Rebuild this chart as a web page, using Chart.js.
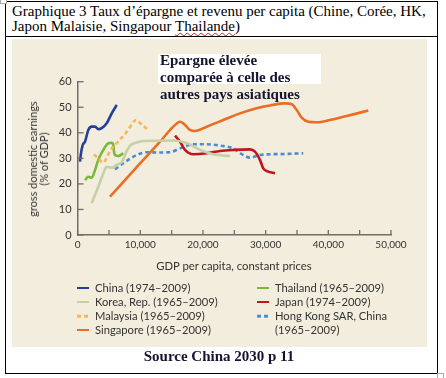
<!DOCTYPE html>
<html>
<head>
<meta charset="utf-8">
<script src="https://cdn.jsdelivr.net/npm/chart.js@4.4.0/dist/chart.umd.min.js"></script>
<style>
  html, body { margin:0; padding:0; background:#fff; }
  body { width:446px; height:378px; position:relative; overflow:hidden; }
  .frame { position:absolute; left:5px; top:1px; width:431px; height:371px; border:1px solid #000; box-sizing:content-box; }
  .hline { position:absolute; left:5px; top:36px; width:432px; height:0; border-top:1px solid #000; }
  .title { position:absolute; left:12px; top:4px; font-family:"Liberation Serif", serif; font-size:15px; line-height:15.4px; color:#000; white-space:nowrap; }
  .wavy { text-decoration: underline wavy #d02020; text-decoration-thickness:1px; text-underline-offset:1px; }
  .panel { position:absolute; left:12px; top:39px; width:415px; height:308px; background:#f2eddd; }
  canvas { position:absolute; left:12px; top:39px; }
  .ann-box { position:absolute; left:158px; top:54px; width:163px; height:30px; background:#fff; }
  .ann { position:absolute; left:160px; font-family:"Liberation Serif", serif; font-weight:bold; font-size:15px; color:#141432; white-space:nowrap; line-height:17px; }
  .ytitle { position:absolute; left:37.5px; top:159px; transform:translate(-50%,-50%) rotate(-90deg); font-family:Lato, sans-serif; font-size:11px; line-height:11px; color:#333; text-align:center; white-space:nowrap; }
  .xtitle { position:absolute; left:234px; top:265px; transform:translate(-50%,-50%); font-family:Lato, sans-serif; font-size:11.3px; color:#333; white-space:nowrap; }
  .leg { position:absolute; font-family:Lato, sans-serif; font-size:11.2px; color:#333; white-space:nowrap; line-height:12px; transform:translateY(-50%); }
  .sw { position:absolute; height:0; transform:translateY(-50%); }
  .source { position:absolute; left:219px; top:356px; transform:translate(-50%,-50%); font-family:"Liberation Serif", serif; font-weight:bold; font-size:15px; color:#141432; white-space:nowrap; }
  .corner { position:absolute; width:5px; height:5px; border:1px solid #aaa; background:#fff; }
</style>
</head>
<body>
<div class="frame"></div>
<div class="hline"></div>
<div class="corner" style="left:0;top:-3px;"></div>
<div class="corner" style="left:437px;top:373px;"></div>
<div class="title">Graphique 3 Taux d’épargne et revenu per capita (Chine, Corée, HK,<br>Japon Malaisie, Singapour <span class="wavy">Thailande</span>)</div>
<div class="panel"></div>
<canvas id="c" width="415" height="308"></canvas>
<div class="ann-box"></div>
<div class="ann" style="top:52px;">Epargne élevée</div>
<div class="ann" style="top:69px;">comparée à celle des</div>
<div class="ann" style="top:86px;">autres pays asiatiques</div>
<div class="ytitle">gross domestic earnings<br>(% of GDP)</div>
<div class="xtitle">GDP per capita, constant prices</div>
<div id="legend"></div>
<div class="source">Source China 2030 p 11</div>
<script>
// ---- Data ----
const chinaX = [383, 540, 810, 1180, 1710, 2250, 2780, 3300, 3850, 4640, 5440, 6240];
const chinaY = [28.7, 32, 35.2, 36.5, 41.1, 42.4, 42.4, 41.4, 41.8, 43.7, 47.6, 50.9];

const thailandX = [1180, 1710, 2250, 2780, 3300, 4100, 4900, 5440, 5700, 5810, 5970, 6490, 7290];
const thailandY = [21.5, 22.8, 22.4, 25.4, 29.4, 33.3, 35.9, 36.1, 35.2, 32.6, 31.3, 30.9, 32];

const koreaX = [2250, 3300, 4100, 4640, 5440, 6240, 7030, 7830, 8360, 9430, 10480, 15270, 17400, 19530, 21650, 24310];
const koreaY = [12.4, 18.9, 24.1, 26.7, 26.3, 27.4, 28.5, 32.8, 35, 36.2, 36.8, 37, 36, 33.3, 31.6, 30.9];

const malaysiaX = [2600, 3300, 4050, 4700, 5170, 6450, 7880, 9000, 9320, 10100, 11070];
const malaysiaY = [31.5, 30, 28.3, 30.5, 33, 36.5, 40.5, 44.5, 45, 43.5, 41.5];

const singaporeX = [5170, 9960, 13150, 15270, 16340, 16860, 17930, 18730, 20600, 23250, 25910, 28570, 30700, 33090, 34160, 34960, 35750, 36810, 38150, 40270, 42930, 46380];
const singaporeY = [15, 28, 36.5, 42.4, 44.3, 43.7, 41.1, 40.7, 42.4, 45, 47.6, 49.6, 50.7, 51.5, 51.2, 48.9, 45.9, 44.3, 44.1, 45, 46.6, 48.7];

const japanX = [15540, 16340, 17140, 18460, 20600, 22720, 24840, 27500, 28290, 29090, 29620, 30420, 31490];
const japanY = [38.9, 36.5, 33.3, 31.6, 32, 32.9, 33.3, 33.5, 32.6, 29.4, 26.1, 24.8, 24.2];

const hongkongX = [5970, 7290, 9430, 11020, 12620, 14740, 16340, 18460, 20600, 22720, 24840, 26440, 27500, 29090, 30700, 33000, 36010];
const hongkongY = [25.7, 28.1, 31.3, 32.4, 32.3, 32.4, 33.9, 35.5, 35.5, 35, 33.9, 31.3, 30.3, 31.3, 31.6, 31.7, 32];

const seriesNames = ["China (1974–2009)", "Korea, Rep. (1965–2009)", "Malaysia (1965–2009)", "Singapore (1965–2009)",
                     "Thailand (1965–2009)", "Japan (1974–2009)", "Hong Kong SAR, China"];
const xTicks = [0, 10000, 20000, 30000, 40000, 50000];
const yTicks = [0, 10, 20, 30, 40, 50, 60];

// ---- Styles ----
const colors = {
  china: "#24409c", korea: "#c6cfa6", malaysia: "#f6b65a", singapore: "#eb6c24",
  thailand: "#7aba3a", japan: "#c0161e", hongkong: "#4a8cd6"
};

function pts(xs, ys) { return xs.map((x, i) => ({ x: x, y: ys[i] })); }
function ds(label, xs, ys, color, dash) {
  return {
    label: label, data: pts(xs, ys), borderColor: color, backgroundColor: color,
    borderWidth: 2.6, pointRadius: 0, fill: false, cubicInterpolationMode: "monotone",
    borderDash: dash || [], borderCapStyle: "butt", borderJoinStyle: "round"
  };
}

const datasets = [
  ds(seriesNames[1], koreaX, koreaY, colors.korea),
  ds(seriesNames[3], singaporeX, singaporeY, colors.singapore),
  ds(seriesNames[5], japanX, japanY, colors.japan),
  ds(seriesNames[6], hongkongX, hongkongY, colors.hongkong, [4, 3]),
  ds(seriesNames[2], malaysiaX, malaysiaY, colors.malaysia, [4, 3]),
  ds(seriesNames[4], thailandX, thailandY, colors.thailand),
  ds(seriesNames[0], chinaX, chinaY, colors.china)
];

function fmt(v) { return String(v).replace(/\B(?=(\d{3})+(?!\d))/g, ","); }

const innerTicks = {
  id: "innerTicks",
  afterDraw(chart) {
    const ctx = chart.ctx, xs = chart.scales.x, ys = chart.scales.y;
    ctx.save();
    ctx.strokeStyle = "#6e6e6e";
    ctx.lineWidth = 1.3;
    xs.ticks.forEach(t => {
      const p = xs.getPixelForValue(t.value);
      ctx.beginPath(); ctx.moveTo(p, xs.top); ctx.lineTo(p, xs.top - 5); ctx.stroke();
    });
    ys.ticks.forEach(t => {
      const p = ys.getPixelForValue(t.value);
      ctx.beginPath(); ctx.moveTo(ys.right, p); ctx.lineTo(ys.right + 6, p); ctx.stroke();
    });
    ctx.restore();
  }
};

new Chart(document.getElementById("c"), {
  type: "line",
  data: { datasets: datasets },
  options: {
    responsive: false, devicePixelRatio: 1, animation: false,
    layout: { padding: { left: 0, top: 42.7, right: 36, bottom: 96 } },
    plugins: { legend: { display: false }, tooltip: { enabled: false } },
    scales: {
      x: {
        type: "linear", min: xTicks[0], max: xTicks[xTicks.length - 1],
        afterFit(s) { s.height = 16; },
        border: { display: true, color: "#6e6e6e", width: 1.5 },
        grid: { display: true, drawOnChartArea: false, drawTicks: false },
        ticks: {
          stepSize: 5000, autoSkip: false, maxRotation: 0, padding: 4,
          color: "#333", font: { family: "Lato", size: 10 },
          callback: v => (xTicks.includes(v) ? fmt(v) : "")
        }
      },
      y: {
        min: yTicks[0], max: yTicks[yTicks.length - 1],
        afterFit(s) { s.width = 65.6; },
        border: { display: true, color: "#6e6e6e", width: 1.5 },
        grid: { display: true, drawOnChartArea: false, drawTicks: false },
        ticks: {
          stepSize: 10, autoSkip: false, padding: 6,
          color: "#333", font: { family: "Lato", size: 11 },
          callback: v => (yTicks.includes(v) ? String(v) : "")
        }
      }
    }
  },
  plugins: [innerTicks]
});

// ---- HTML legend (two columns, as in the reference) ----
const legendItems = [
  { name: seriesNames[0], color: colors.china, dash: false, col: 0, row: 0 },
  { name: seriesNames[1], color: colors.korea, dash: false, col: 0, row: 1 },
  { name: seriesNames[2], color: colors.malaysia, dash: true, col: 0, row: 2 },
  { name: seriesNames[3], color: colors.singapore, dash: false, col: 0, row: 3 },
  { name: seriesNames[4], color: colors.thailand, dash: false, col: 1, row: 0 },
  { name: seriesNames[5], color: colors.japan, dash: false, col: 1, row: 1 },
  { name: seriesNames[6], color: colors.hongkong, dash: true, col: 1, row: 2 }
];
const legendEl = document.getElementById("legend");
const colSwatchX = [77, 257], colTextX = [95, 275], rowY = [288, 302, 316, 330];
legendItems.forEach(it => {
  const sw = document.createElement("div");
  sw.className = "sw";
  sw.style.left = colSwatchX[it.col] + "px";
  sw.style.top = rowY[it.row] + "px";
  sw.style.width = "12px";
  sw.style.borderTop = "2.6px solid " + it.color;
  if (it.dash) {
    sw.style.borderTop = "none";
    sw.style.height = "2.6px";
    sw.style.background = "linear-gradient(to right," + it.color + " 0 4px, transparent 4px 7px," + it.color + " 7px 11px, transparent 11px)";
  }
  legendEl.appendChild(sw);
  const t = document.createElement("div");
  t.className = "leg";
  t.style.left = colTextX[it.col] + "px";
  t.style.top = rowY[it.row] + "px";
  t.textContent = it.name;
  legendEl.appendChild(t);
});
const extra = document.createElement("div");
extra.className = "leg";
extra.style.left = colTextX[1] + "px";
extra.style.top = rowY[3] + "px";
extra.textContent = "(1965–2009)";
legendEl.appendChild(extra);
</script>
</body>
</html>
